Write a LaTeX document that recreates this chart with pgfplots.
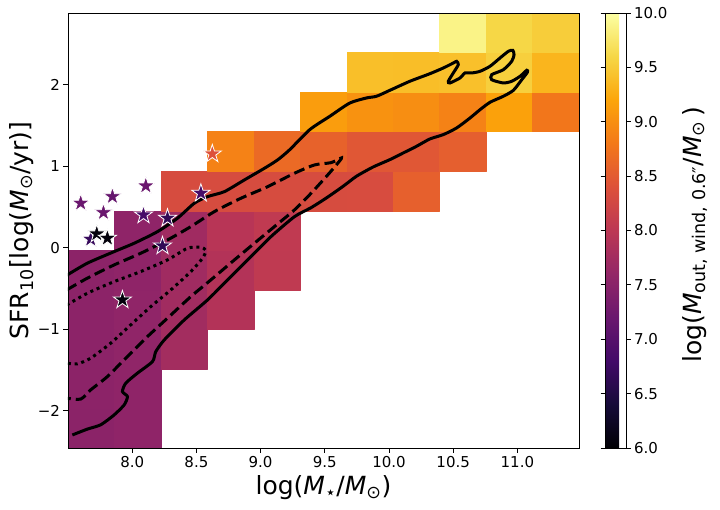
\documentclass[border=0pt]{standalone}
\usepackage{fontspec}
\setmainfont{DejaVu Sans}
\usepackage{pgfplots}
\usepackage{pgfplotstable}
\pgfplotsset{compat=1.18}
\usepgfplotslibrary{patchplots}
\usetikzlibrary{plotmarks}

\pgfdeclareplotmark{fstar}{%
 \pgfpathmoveto{\pgfpointpolar{90}{\pgfplotmarksize}}%
 \pgfpathlineto{\pgfpointpolar{126}{0.382*\pgfplotmarksize}}%
 \pgfpathlineto{\pgfpointpolar{162}{\pgfplotmarksize}}%
 \pgfpathlineto{\pgfpointpolar{198}{0.382*\pgfplotmarksize}}%
 \pgfpathlineto{\pgfpointpolar{234}{\pgfplotmarksize}}%
 \pgfpathlineto{\pgfpointpolar{270}{0.382*\pgfplotmarksize}}%
 \pgfpathlineto{\pgfpointpolar{306}{\pgfplotmarksize}}%
 \pgfpathlineto{\pgfpointpolar{342}{0.382*\pgfplotmarksize}}%
 \pgfpathlineto{\pgfpointpolar{18}{\pgfplotmarksize}}%
 \pgfpathlineto{\pgfpointpolar{54}{0.382*\pgfplotmarksize}}%
 \pgfpathclose
 \pgfusepathqfillstroke
}

\pgfplotsset{colormap={inferno}{rgb255=(0,0,4) rgb255=(22,11,57) rgb255=(66,10,104) rgb255=(106,23,110) rgb255=(147,38,103) rgb255=(188,55,84) rgb255=(221,81,58) rgb255=(243,120,25) rgb255=(252,165,10) rgb255=(246,215,70) rgb255=(252,255,164)}}

% 2D histogram cells: corners (grid index i, j) and cell value v, four rows per cell
\pgfplotstableread[row sep=\\]{
i j v\\
0 0 7.52\\ 1 0 7.52\\ 1 1 7.52\\ 0 1 7.52\\
1 0 7.56\\ 2 0 7.56\\ 2 1 7.56\\ 1 1 7.56\\
0 1 7.53\\ 1 1 7.53\\ 1 2 7.53\\ 0 2 7.53\\
1 1 7.56\\ 2 1 7.56\\ 2 2 7.56\\ 1 2 7.56\\
0 2 7.53\\ 1 2 7.53\\ 1 3 7.53\\ 0 3 7.53\\
1 2 7.57\\ 2 2 7.57\\ 2 3 7.57\\ 1 3 7.57\\
2 2 7.76\\ 3 2 7.76\\ 3 3 7.76\\ 2 3 7.76\\
0 3 7.53\\ 1 3 7.53\\ 1 4 7.53\\ 0 4 7.53\\
1 3 7.57\\ 2 3 7.57\\ 2 4 7.57\\ 1 4 7.57\\
2 3 7.74\\ 3 3 7.74\\ 3 4 7.74\\ 2 4 7.74\\
3 3 7.91\\ 4 3 7.91\\ 4 4 7.91\\ 3 4 7.91\\
0 4 7.53\\ 1 4 7.53\\ 1 5 7.53\\ 0 5 7.53\\
1 4 7.56\\ 2 4 7.56\\ 2 5 7.56\\ 1 5 7.56\\
2 4 7.73\\ 3 4 7.73\\ 3 5 7.73\\ 2 5 7.73\\
3 4 7.91\\ 4 4 7.91\\ 4 5 7.91\\ 3 5 7.91\\
4 4 8.04\\ 5 4 8.04\\ 5 5 8.04\\ 4 5 8.04\\
1 5 7.56\\ 2 5 7.56\\ 2 6 7.56\\ 1 6 7.56\\
2 5 7.73\\ 3 5 7.73\\ 3 6 7.73\\ 2 6 7.73\\
3 5 7.96\\ 4 5 7.96\\ 4 6 7.96\\ 3 6 7.96\\
4 5 8.05\\ 5 5 8.05\\ 5 6 8.05\\ 4 6 8.05\\
2 6 8.32\\ 3 6 8.32\\ 3 7 8.32\\ 2 7 8.32\\
3 6 8.32\\ 4 6 8.32\\ 4 7 8.32\\ 3 7 8.32\\
4 6 8.32\\ 5 6 8.32\\ 5 7 8.32\\ 4 7 8.32\\
5 6 8.32\\ 6 6 8.32\\ 6 7 8.32\\ 5 7 8.32\\
6 6 8.33\\ 7 6 8.33\\ 7 7 8.33\\ 6 7 8.33\\
7 6 8.56\\ 8 6 8.56\\ 8 7 8.56\\ 7 7 8.56\\
3 7 8.89\\ 4 7 8.89\\ 4 8 8.89\\ 3 8 8.89\\
4 7 8.66\\ 5 7 8.66\\ 5 8 8.66\\ 4 8 8.66\\
5 7 8.58\\ 6 7 8.58\\ 6 8 8.58\\ 5 8 8.58\\
6 7 8.46\\ 7 7 8.46\\ 7 8 8.46\\ 6 8 8.46\\
7 7 8.46\\ 8 7 8.46\\ 8 8 8.46\\ 7 8 8.46\\
8 7 8.54\\ 9 7 8.54\\ 9 8 8.54\\ 8 8 8.54\\
5 8 9.13\\ 6 8 9.13\\ 6 9 9.13\\ 5 9 9.13\\
6 8 9.03\\ 7 8 9.03\\ 7 9 9.03\\ 6 9 9.03\\
7 8 9.00\\ 8 8 9.00\\ 8 9 9.00\\ 7 9 9.00\\
8 8 8.89\\ 9 8 8.89\\ 9 9 8.89\\ 8 9 8.89\\
9 8 9.17\\ 10 8 9.17\\ 10 9 9.17\\ 9 9 9.17\\
10 8 8.78\\ 11 8 8.78\\ 11 9 8.78\\ 10 9 8.78\\
6 9 9.41\\ 7 9 9.41\\ 7 10 9.41\\ 6 10 9.41\\
7 9 9.40\\ 8 9 9.40\\ 8 10 9.40\\ 7 10 9.40\\
8 9 9.42\\ 9 9 9.42\\ 9 10 9.42\\ 8 10 9.42\\
9 9 9.54\\ 10 9 9.54\\ 10 10 9.54\\ 9 10 9.54\\
10 9 9.33\\ 11 9 9.33\\ 11 10 9.33\\ 10 10 9.33\\
8 10 9.88\\ 9 10 9.88\\ 9 11 9.88\\ 8 11 9.88\\
9 10 9.60\\ 10 10 9.60\\ 10 11 9.60\\ 9 11 9.60\\
10 10 9.52\\ 11 10 9.52\\ 11 11 9.52\\ 10 11 9.52\\
}\hist

\pgfplotstableread{
x y v
7.599 0.545 7.2
7.846 0.626 7.15
7.776 0.429 7.2
8.106 0.757 7.2
8.088 0.401 6.85
8.275 0.361 6.65
8.236 0.021 6.65
8.535 0.667 6.85
7.677 0.103 6.7
7.724 0.168 6.05
7.807 0.115 6.05
7.924 -0.642 6.05
8.624 1.150 8.4
}\stars

\begin{document}
\begin{tikzpicture}
\useasboundingbox (-68pt,-61pt) rectangle (652pt,448pt);
\begin{axis}[
 at={(0,0)}, anchor=south west,
 scale only axis, width=511pt, height=435pt,
 xmin=7.5, xmax=11.48, ymin=-2.46, ymax=2.88,
 xtick={8,8.5,9,9.5,10,10.5,11},
 xticklabels={8.0,8.5,9.0,9.5,10.0,10.5,11.0},
 ytick={-2,-1,0,1,2},
 yticklabels={−2,−1,0,1,2},
 tick pos=left, tick align=outside, major tick length=4.5pt,
 every tick/.style={black, line width=0.9pt},
 axis line style={line width=0.9pt},
 axis on top,
 tick label style={font=\fontsize{15}{18}\selectfont},
 xlabel={log(\textit{M}\textsubscript{⋆}/\textit{M}\textsubscript{⊙})},
 ylabel={SFR\textsubscript{10}[log(\textit{M}\textsubscript{⊙}/yr)]},
 xlabel style={font=\fontsize{25}{30}\selectfont, at={(axis description cs:0.5,-0.092)}, anchor=center},
 ylabel style={font=\fontsize{25}{30}\selectfont, at={(axis description cs:-0.09,0.5)}, anchor=center},
 colormap name=inferno, point meta min=6, point meta max=10,
 colorbar,
 colorbar shift/.style={},
 colorbar style={
   at={(parent axis.north east)}, anchor=north west, xshift=26pt,
   width=21pt,
   ytick={6,6.5,7,7.5,8,8.5,9,9.5,10},
   yticklabels={6.0,6.5,7.0,7.5,8.0,8.5,9.0,9.5,10.0},
   tick align=outside, major tick length=4.5pt,
   every tick/.style={black, line width=0.9pt},
   axis line style={line width=0.9pt},
   tick label style={font=\fontsize{15}{18}\selectfont},
   ylabel={log(\textit{M}\textsubscript{out, wind, 0.6″}/\textit{M}\textsubscript{⊙}\,)},
   ylabel style={font=\fontsize{25}{30}\selectfont, at={(axis description cs:4.29,0.49)}, anchor=center, rotate=0},
 },
]
% heatmap cells
\addplot[patch, patch type=rectangle, shader=flat, point meta=explicit]
  table[x expr={7.5+\thisrow{i}*0.361818}, y expr={-2.46+\thisrow{j}*0.485455}, meta=v] {\hist};

% contours
\addplot[black, line width=3pt, smooth, tension=0.4] coordinates {
(7.534,-2.300) (7.651,-2.228) (7.755,-2.175) (7.860,-2.053) (7.938,-1.930) (7.963,-1.828) (7.924,-1.767) (7.950,-1.664) (8.041,-1.541) (8.158,-1.399) (8.184,-1.276) (8.250,-1.133) (8.406,-0.887) (8.587,-0.642) (8.743,-0.396) (8.925,-0.110) (9.081,0.135) (9.264,0.380) (9.393,0.49) (9.513,0.610) (9.643,0.753) (9.747,0.876) (9.877,0.990) (10.007,1.080) (10.111,1.162) (10.215,1.244) (10.319,1.334) (10.423,1.387) (10.527,1.469) (10.631,1.591) (10.709,1.693) (10.787,1.784) (10.891,1.858) (10.969,1.931) (11.034,2.061) (11.078,2.152) (11.073,2.177) (11.021,2.103) (10.956,2.042) (10.891,2.021) (10.800,2.061) (10.800,2.123) (10.891,2.184) (10.956,2.287) (10.974,2.368) (10.964,2.422) (10.930,2.410) (10.865,2.328) (10.787,2.226) (10.709,2.164) (10.644,2.144) (10.592,2.144) (10.553,2.082) (10.475,2.021) (10.462,2.042) (10.501,2.144) (10.540,2.245) (10.527,2.287) (10.501,2.266) (10.423,2.205) (10.319,2.135) (10.163,2.042) (10.007,1.931) (9.903,1.858) (9.825,1.837) (9.695,1.775) (9.539,1.612) (9.383,1.448) (9.227,1.202) (9.133,1.077) (9.030,0.974) (8.874,0.831) (8.718,0.687) (8.587,0.626) (8.484,0.545) (8.353,0.361) (8.197,0.196) (8.016,0.054) (7.860,-0.049) (7.651,-0.191) (7.49,-0.34)
};
\addplot[black, line width=3pt, dash pattern=on 11pt off 5pt, smooth, tension=0.4] coordinates {
(7.49,-0.519) (7.651,-0.375) (7.860,-0.212) (8.067,-0.069) (8.275,0.094) (8.457,0.258) (8.640,0.442) (8.847,0.606) (9.055,0.748) (9.264,0.913) (9.420,1.015) (9.549,1.043) (9.630,1.101) (9.601,1.036) (9.523,0.892) (9.393,0.667) (9.264,0.463) (9.108,0.258) (8.952,0.054) (8.796,-0.151) (8.613,-0.396) (8.457,-0.601) (8.275,-0.866) (8.119,-1.092) (7.963,-1.337) (7.807,-1.583) (7.677,-1.746) (7.599,-1.860) (7.49,-1.848)
};
\addplot[black, line width=3pt, dash pattern=on 3pt off 3.8pt, smooth, tension=0.4] coordinates {
(7.49,-0.705) (7.651,-0.560) (7.860,-0.417) (8.067,-0.294) (8.275,-0.151) (8.431,-0.007) (8.535,0.005) (8.574,-0.037) (8.548,-0.130) (8.457,-0.294) (8.301,-0.519) (8.145,-0.724) (7.989,-0.948) (7.833,-1.173) (7.677,-1.357) (7.573,-1.427) (7.49,-1.418)
};

% galaxies
\addplot[scatter, only marks, mark=fstar, mark size=9.5pt,
  mark options={line width=0.8pt},
  scatter/use mapped color={draw=white, fill=mapped color},
  point meta=explicit]
  table[x=x, y=y, meta=v] {\stars};
\end{axis}
\end{tikzpicture}
\end{document}
